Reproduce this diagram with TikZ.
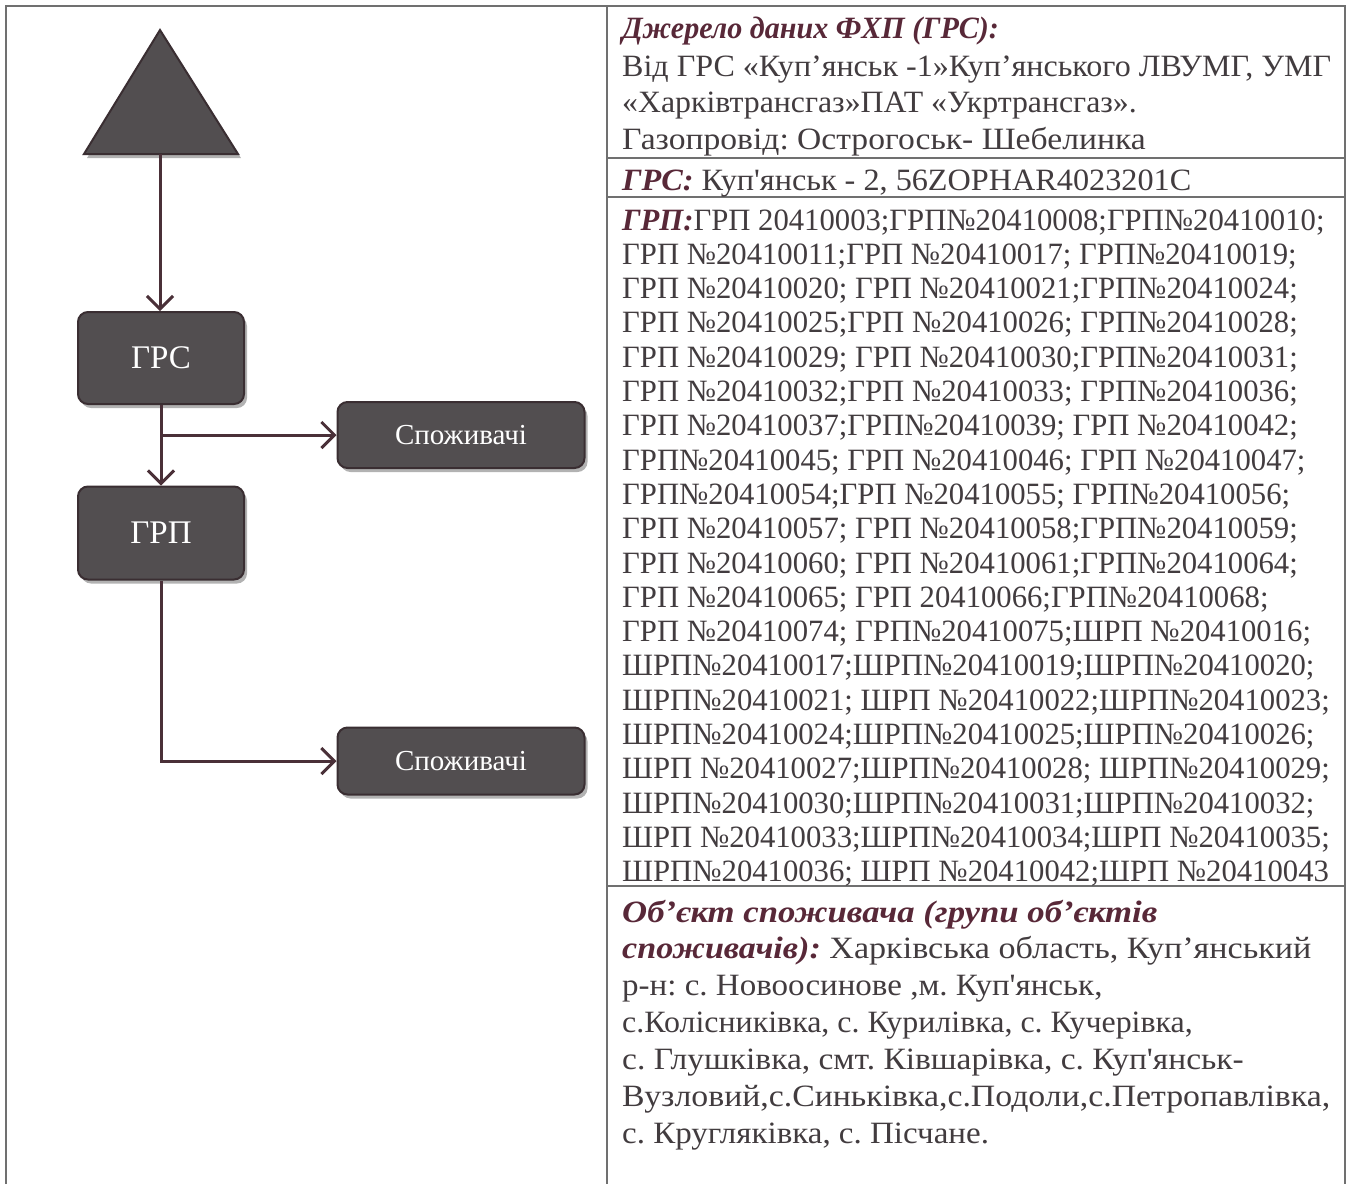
\documentclass[tikz,border=0pt]{standalone}
\usepackage{graphicx}
\usepackage{fontspec}
\setmainfont{Liberation Serif}
\usetikzlibrary{arrows.meta,shadows}
\definecolor{txtc}{RGB}{66,60,63}
\definecolor{hdrc}{RGB}{88,40,56}
\definecolor{boxfill}{RGB}{82,78,80}
\definecolor{boxedge}{RGB}{58,46,50}
\definecolor{connc}{RGB}{74,48,56}
\definecolor{rulec}{RGB}{112,112,112}
\tikzset{
  txt/.style={anchor=base west, inner sep=0pt, text=txtc, font=\fontsize{31}{34}\selectfont\frenchspacing},
  box/.style={draw=boxedge, line width=2pt, fill=boxfill, rounded corners=10pt, text=white,
    drop shadow={shadow xshift=3pt, shadow yshift=-4pt, fill=black, opacity=0.3}},
  conn/.style={draw=connc, line width=3pt, -{Straight Barb[length=13pt,width=26pt]}},
  rule/.style={draw=rulec, line width=1.6pt}
}
\newcommand{\hd}[1]{{\color{hdrc}\bfseries\itshape #1}}
\newcommand{\sx}[2]{\scalebox{#1}[1]{#2}}
\begin{document}
\begin{tikzpicture}[x=1pt,y=-1pt]
\useasboundingbox (0,0) rectangle (1349,1184);
\fill[white] (0,0) rectangle (1349,1184);
% table frame
\draw[rule] (6,1184) -- (6,6) -- (1345,6) -- (1345,1184);
\draw[rule] (607,6) -- (607,1184);
\draw[rule] (607,158) -- (1345,158);
\draw[rule] (607,197) -- (1345,197);
\draw[rule] (607,886) -- (1345,886);
% triangle
\draw[draw=boxedge, line width=2pt, fill=boxfill, line join=miter,
  drop shadow={shadow xshift=3pt, shadow yshift=-4pt, fill=black, opacity=0.3}]
  (160,30) -- (238,154) -- (84,154) -- cycle;
\coordinate (tri) at (160,154);
% boxes
\node[box, minimum width=166pt, minimum height=92pt, font=\fontsize{33}{36}\selectfont] (grs) at (161,358) {ГРС};
\node[box, minimum width=166pt, minimum height=93pt, font=\fontsize{33}{36}\selectfont] (grp) at (161,533) {ГРП};
\node[box, minimum width=247pt, minimum height=66pt, font=\fontsize{29}{32}\selectfont] (c1) at (461,435) {Споживачі};
\node[box, minimum width=247pt, minimum height=67pt, font=\fontsize{29}{32}\selectfont] (c2) at (461,761) {Споживачі};
% connectors
\draw[conn] (tri) -- (tri |- grs.north);
\draw[conn] (grs.south) -- (grs.south |- grp.north);
\draw[conn] (grs.south |- c1.west) -- (c1.west);
\draw[conn] (grp.south) |- (c2.west);
% right column text
\node[txt] (h1) at (622,38) {\sx{0.97}{\hd{Джерело даних ФХП (ГРС):}}};
\node[txt] (h2) at (622,76) {\sx{1.034}{Від ГРС «Куп’янськ -1»Куп’янського ЛВУМГ, УМГ}};
\node[txt] (h3) at (622,112) {\sx{1.026}{«Харківтрансгаз»ПАТ «Укртрансгаз».}};
\node[txt] (h4) at (622,149) {\sx{1.084}{Газопровід: Острогоськ- Шебелинка}};
\node[txt] (s1) at (622,190) {\sx{1.04}{\hd{ГРС:} Куп\textquotesingle янськ - 2, 56ZOPHAR4023201C}};
\node[txt] (g1) at (622,230) {\sx{0.99}{\hd{ГРП:}ГРП 20410003;ГРП№20410008;ГРП№20410010;}};
\node[txt] (g2) at (622,264.3) {\sx{0.99}{ГРП №20410011;ГРП №20410017; ГРП№20410019;}};
\node[txt] (g3) at (622,298.6) {\sx{0.99}{ГРП №20410020; ГРП №20410021;ГРП№20410024;}};
\node[txt] (g4) at (622,332.9) {\sx{0.99}{ГРП №20410025;ГРП №20410026; ГРП№20410028;}};
\node[txt] (g5) at (622,367.2) {\sx{0.99}{ГРП №20410029; ГРП №20410030;ГРП№20410031;}};
\node[txt] (g6) at (622,401.5) {\sx{0.99}{ГРП №20410032;ГРП №20410033; ГРП№20410036;}};
\node[txt] (g7) at (622,435.8) {\sx{0.99}{ГРП №20410037;ГРП№20410039; ГРП №20410042;}};
\node[txt] (g8) at (622,470.1) {\sx{0.99}{ГРП№20410045; ГРП №20410046; ГРП №20410047;}};
\node[txt] (g9) at (622,504.4) {\sx{0.99}{ГРП№20410054;ГРП №20410055; ГРП№20410056;}};
\node[txt] (g10) at (622,538.7) {\sx{0.99}{ГРП №20410057; ГРП №20410058;ГРП№20410059;}};
\node[txt] (g11) at (622,573) {\sx{0.99}{ГРП №20410060; ГРП №20410061;ГРП№20410064;}};
\node[txt] (g12) at (622,607.3) {\sx{0.99}{ГРП №20410065; ГРП 20410066;ГРП№20410068;}};
\node[txt] (g13) at (622,641.6) {\sx{0.99}{ГРП №20410074; ГРП№20410075;ШРП №20410016;}};
\node[txt] (g14) at (622,675.9) {\sx{0.99}{ШРП№20410017;ШРП№20410019;ШРП№20410020;}};
\node[txt] (g15) at (622,710.2) {\sx{0.99}{ШРП№20410021; ШРП №20410022;ШРП№20410023;}};
\node[txt] (g16) at (622,744.5) {\sx{0.99}{ШРП№20410024;ШРП№20410025;ШРП№20410026;}};
\node[txt] (g17) at (622,778.8) {\sx{0.99}{ШРП №20410027;ШРП№20410028; ШРП№20410029;}};
\node[txt] (g18) at (622,813.1) {\sx{0.99}{ШРП№20410030;ШРП№20410031;ШРП№20410032;}};
\node[txt] (g19) at (622,847.4) {\sx{0.99}{ШРП №20410033;ШРП№20410034;ШРП №20410035;}};
\node[txt] (g20) at (622,881.7) {\sx{0.99}{ШРП№20410036; ШРП №20410042;ШРП №20410043}};
\node[txt] (o1) at (622,922) {\sx{1.12}{\hd{Об’єкт споживача (групи об’єктів}}};
\node[txt] (o2) at (622,958) {\sx{1.10}{\hd{споживачів):} Харківська область, Куп’янський}};
\node[txt] (o3) at (622,995) {\sx{1.065}{р-н: с. Новоосинове ,м. Куп\textquotesingle янськ,}};
\node[txt] (o4) at (622,1032) {\sx{1.03}{с.Колісниківка, с. Курилівка, с. Кучерівка,}};
\node[txt] (o5) at (622,1069) {\sx{1.08}{с. Глушківка, смт. Ківшарівка, с. Куп\textquotesingle янськ-}};
\node[txt] (o6) at (622,1106) {\sx{1.09}{Вузловий,с.Синьківка,с.Подоли,с.Петропавлівка,}};
\node[txt] (o7) at (622,1143) {\sx{1.065}{с. Кругляківка, с. Пісчане.}};
\end{tikzpicture}
\end{document}
